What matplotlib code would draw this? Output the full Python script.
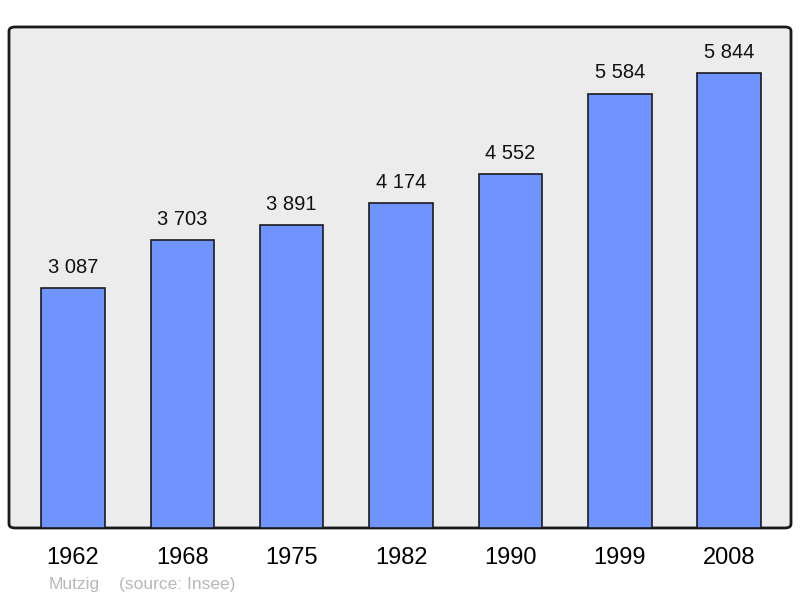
import matplotlib.pyplot as plt
from matplotlib.patches import FancyBboxPatch

years = ["1962", "1968", "1975", "1982", "1990", "1999", "2008"]
population = [3087, 3703, 3891, 4174, 4552, 5584, 5844]
labels = ["3 087", "3 703", "3 891", "4 174", "4 552", "5 584", "5 844"]

plt.rcParams['font.family'] = ['Liberation Sans', 'DejaVu Sans']

fig = plt.figure(figsize=(8, 5.98), dpi=100)
ax = fig.add_axes([0.01125, 0.1171, 0.9775, 0.8378])
ax.set_facecolor('none')

# rounded frame behind the bars
frame = FancyBboxPatch((0, 0), 1, 1, boxstyle="round,pad=0,rounding_size=0.008",
                       transform=ax.transAxes, facecolor='#ececec', edgecolor='#1a1a1a',
                       linewidth=2, zorder=0, clip_on=False)
ax.add_patch(frame)

x = range(len(years))
bars = ax.bar(x, population, width=0.58, color='#7094ff', edgecolor='#1a1a1a',
              linewidth=1.2, zorder=2)

for b, lab in zip(bars, labels):
    ax.annotate(lab, (b.get_x() + b.get_width() / 2, b.get_height()),
                xytext=(0, 8), textcoords='offset points', ha='center', va='bottom',
                fontsize=14.5, color='#111111')

ax.set_xlim(-0.585, 6.565)
ax.set_ylim(0, 6440)
ax.set_xticks(list(x))
ax.set_xticklabels(years, fontsize=17)
ax.tick_params(axis='x', length=0, pad=13.5)
ax.set_yticks([])
for s in ax.spines.values():
    s.set_visible(False)

fig.text(49 / 800, 1 - 584 / 598, "Mutzig", color='#b8b8b8', fontsize=12.5, va='center')
fig.text(119 / 800, 1 - 584 / 598, "(source: Insee)", color='#b8b8b8', fontsize=12.5, va='center')

fig.savefig("out.png", dpi=100)
